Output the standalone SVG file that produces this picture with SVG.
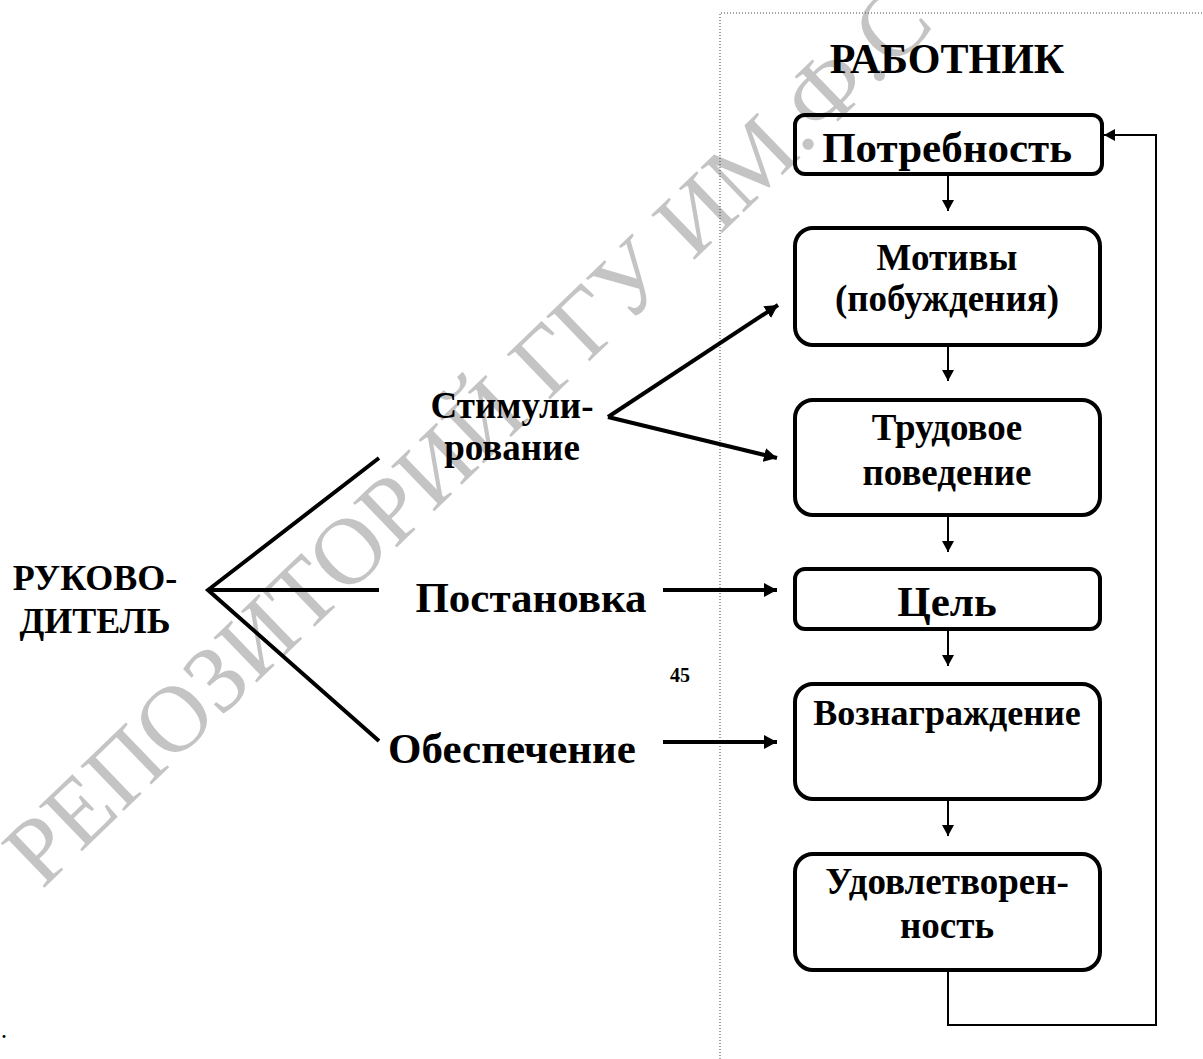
<svg xmlns="http://www.w3.org/2000/svg" width="1203" height="1059" viewBox="0 0 1203 1059">
<style>
.t{font-family:"Liberation Serif","Times New Roman",serif;font-weight:bold;fill:#000;text-anchor:middle}
.box{fill:none;stroke:#000;stroke-width:4}
.thin{fill:none;stroke:#000;stroke-width:2}
.thick{fill:none;stroke:#000;stroke-width:4}
.wm{font-family:"Liberation Serif","Times New Roman",serif;font-size:95px;fill:#c4c4c4}
</style>
<defs>
<marker id="as" markerUnits="userSpaceOnUse" markerWidth="12" markerHeight="12" refX="11" refY="6" orient="auto"><path d="M0,0 L11,6 L0,12 z" fill="#000"/></marker>
<marker id="al" markerUnits="userSpaceOnUse" markerWidth="14" markerHeight="16" refX="13" refY="8" orient="auto"><path d="M0,1 L13,8 L0,15 z" fill="#000"/></marker>
</defs>
<rect width="1203" height="1059" fill="#fff"/>
<g id="watermark">
<text class="wm" x="42" y="890" transform="rotate(-44 42 890)">РЕПОЗИТОРИЙ ГГУ ИМ.Ф.С</text>
</g>
<g id="frame"><path d="M720,1059 V13 H1203" fill="none" stroke="#444" stroke-width="1" stroke-dasharray="1,2"/></g>
<g id="title"><text class="t" x="947" y="73" font-size="42">РАБОТНИК</text></g>
<g id="connectors">
<path class="thick" d="M379,458 L208,590 L379,741 M208,590 H379"/>
<path class="thick" d="M608,417 L778,305" marker-end="url(#al)"/>
<path class="thick" d="M608,417 L777,458" marker-end="url(#al)"/>
<path class="thick" d="M663,590 H777" marker-end="url(#al)"/>
<path class="thick" d="M663,742 H777" marker-end="url(#al)"/>
<path class="thin" d="M948,174 V211" marker-end="url(#as)"/>
<path class="thin" d="M948,345 V381" marker-end="url(#as)"/>
<path class="thin" d="M948,515 V552" marker-end="url(#as)"/>
<path class="thin" d="M948,629 V666" marker-end="url(#as)"/>
<path class="thin" d="M948,799 V836" marker-end="url(#as)"/>
<path class="thin" d="M948,970 V1025 H1156 V135 H1104" stroke-width="2.5" marker-end="url(#as)"/>
</g>
<g id="n-rukovoditel"><text class="t" font-size="36"><tspan x="95" y="590">РУКОВО-</tspan><tspan x="95" y="633">ДИТЕЛЬ</tspan></text></g>
<g id="n-stimul"><text class="t" font-size="37"><tspan x="512" y="418">Стимули-</tspan><tspan x="512" y="460">рование</tspan></text></g>
<g id="n-postanovka"><text class="t" x="531" y="612" font-size="43">Постановка</text></g>
<g id="n-obesp"><text class="t" x="512" y="763" font-size="43">Обеспечение</text></g>
<g id="n-potr"><rect class="box" x="795" y="115" width="307" height="59" rx="10"/><text class="t" x="947" y="162" font-size="43">Потребность</text></g>
<g id="n-motiv"><rect class="box" x="795" y="228" width="305" height="117" rx="18"/><text class="t" font-size="37"><tspan x="947" y="270">Мотивы</tspan><tspan x="947" y="311">(побуждения)</tspan></text></g>
<g id="n-trud"><rect class="box" x="795" y="400" width="305" height="115" rx="18"/><text class="t" font-size="37"><tspan x="947" y="440">Трудовое</tspan><tspan x="947" y="485">поведение</tspan></text></g>
<g id="n-cel"><rect class="box" x="795" y="569" width="305" height="60" rx="10"/><text class="t" x="947" y="616" font-size="43">Цель</text></g>
<g id="n-vozn"><rect class="box" x="795" y="684" width="305" height="115" rx="18"/><text class="t" x="947" y="725" font-size="36">Вознаграждение</text></g>
<g id="n-udov"><rect class="box" x="795" y="854" width="305" height="116" rx="18"/><text class="t" font-size="37"><tspan x="947" y="894">Удовлетворен-</tspan><tspan x="947" y="938">ность</tspan></text></g>
<g id="page"><text class="t" x="680" y="682" font-size="20">45</text><text class="t" x="4" y="1038" font-size="18">.</text></g>
</svg>
